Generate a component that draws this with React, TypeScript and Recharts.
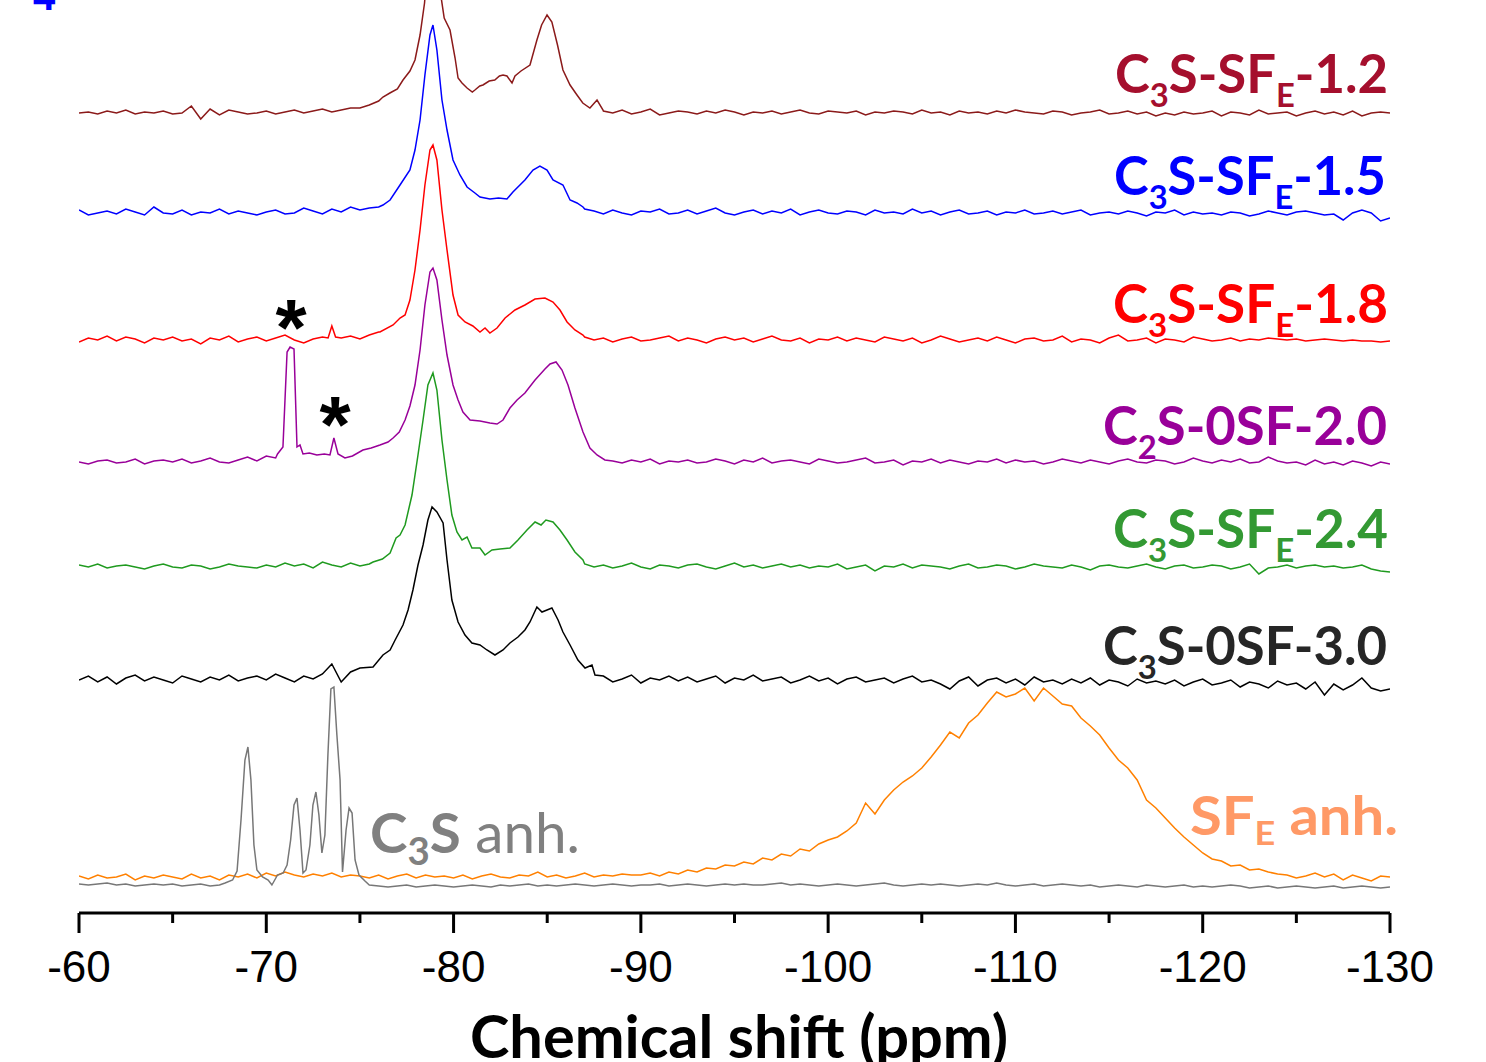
import React from "react";
import { LineChart, Line, XAxis, YAxis } from "recharts";

const N = null;

// 0.5 ppm grid for the baseline stretches of every trace (-60 ... -130)
const gridPpm: number[] = [];
for (let i = 0; i <= 140; i++) gridPpm.push(-60 - i * 0.5);

const tickValues = [-60, -65, -70, -75, -80, -85, -90, -95, -100, -105, -110, -115, -120, -125, -130];

// baseline noise on the grid (N = covered by the detailed peak points)
const c3s12Noise = [
  0, 1, -1, 2, 0, 3, -1, 1, 0, 2,
  -1, 0, 7, -6, 4, -2, 3, 1, -1, 0,
  2, -1, 1, 3, 0, 2, 4, 1, 3, 5,
  5, 8, 12, N, N, N, N, N, N, N,
  N, N, N, N, N, N, N, N, N, N,
  N, N, N, N, N, N, 2, 0, 3, -1,
  1, 4, -2, 0, 2, 1, -1, 2, 0, 3,
  1, -2, 1, 0, 2, -1, 1, 3, 0, -1,
  2, 1, 0, 2, -2, 1, 0, 2, 1, -1,
  3, 0, 1, -2, 2, 0, 1, -1, 2, 0,
  3, 1, 0, -1, 2, 1, -2, 0, 1, 3,
  -1, 0, 2, -1, 1, -3, 0, -2, 1, -1,
  0, 2, -3, 1, 0, -2, 3, -1, 0, 1,
  -3, 0, 2, -1, 1, -2, 2, -3, 0, 1,
  0,
];
const c3s12Peaks: [number, number][] = [
  [-76.23, 16], [-76.6, 20], [-77.0, 24], [-77.3, 33], [-77.67, 42], [-77.94, 53], [-78.21, 78],
  [-78.45, 110], [-78.65, 160], [-78.9, 215], [-79.1, 180], [-79.3, 120], [-79.5, 95], [-79.81, 83],
  [-80.08, 55], [-80.24, 35], [-80.45, 30], [-80.72, 25], [-81.0, 21], [-81.14, 23], [-81.4, 27],
  [-81.57, 28], [-81.9, 32], [-82.2, 33], [-82.45, 37], [-82.64, 38], [-82.85, 37], [-83.12, 30],
  [-83.28, 37], [-83.6, 42], [-84.08, 48], [-84.45, 73], [-84.7, 88], [-84.99, 98], [-85.25, 91],
  [-85.55, 68], [-85.84, 43], [-86.22, 28], [-86.59, 18], [-86.9, 10], [-87.28, 5], [-87.66, 13],
  [-87.98, 3],
];

const c3s15Noise = [
  3, -2, 0, 2, -1, 4, 1, -2, 6, 0,
  -1, 3, -2, 1, 0, 4, -1, 2, 0, -2,
  1, 3, -1, 0, 5, 2, -1, 4, 1, 6,
  3, 5, 6, N, N, N, N, N, N, N,
  N, N, N, N, N, N, N, N, N, N,
  N, N, N, N, 4, 2, -1, 3, 0, -2,
  2, 1, 4, -1, 0, 3, -1, 2, 5, 0,
  -2, 1, 3, -1, 2, 0, 4, -2, 1, 3,
  0, -1, 2, 1, -2, 3, 0, 1, -1, 4,
  0, 2, -2, 1, 3, -1, 0, 2, -2, 1,
  0, 3, -1, 0, 2, -1, 1, 3, -2, 0,
  1, -1, 2, 0, -3, 1, 0, 3, -2, 1,
  -1, 0, -2, 1, 0, -3, -1, 2, 0, -2,
  1, 2, 0, -2, -1, -7, 0, 3, 0, -8,
  -5,
];
const c3s15Peaks: [number, number][] = [
  [-76.23, 8], [-76.61, 13], [-77.14, 28], [-77.67, 43], [-77.94, 63], [-78.21, 93], [-78.47, 138],
  [-78.74, 178], [-78.9, 188], [-79.11, 163], [-79.38, 113], [-79.65, 83], [-79.97, 53], [-80.34, 38],
  [-80.72, 26], [-81.14, 20], [-81.41, 16], [-81.94, 14], [-82.4, 15], [-82.85, 14], [-83.17, 21],
  [-83.81, 33], [-84.24, 43], [-84.61, 47], [-84.99, 43], [-85.31, 33], [-85.84, 28], [-86.22, 13],
  [-86.59, 10], [-86.91, 6],
];

const c3s18Noise = [
  -2, 2, 0, 4, -1, 3, 1, -3, 2, 0,
  3, -1, 1, -4, 2, 0, 4, -2, 1, 3,
  -1, 2, 5, 0, -3, 1, 3, N, 2, 4,
  1, 5, 8, N, N, N, N, N, N, N,
  N, N, N, N, N, N, N, N, N, N,
  N, N, N, N, 3, 0, 2, -2, 1, 3,
  -1, 0, 2, 4, -1, 2, 0, -3, 1, 3,
  0, 2, -2, 1, 4, 0, -1, 2, -3, 1,
  0, 3, -1, 2, 0, -2, 3, 1, -1, 2,
  -3, 0, 4, 1, -2, 0, 2, -1, 3, 0,
  -3, 1, 2, -1, 0, 4, -2, 1, 0, -3,
  2, 5, -1, 0, 2, -3, 1, 0, -2, 3,
  1, -1, 0, 2, -1, 1, 0, 2, 1, 0,
  1, -1, 0, 1, 0, -1, 0, -1, -1, -2,
  -1,
];
const c3s18Peaks: [number, number][] = [
  [-73.3, 2], [-73.5, 14], [-73.7, 3],
  [-76.07, 8], [-76.77, 15], [-77.14, 22], [-77.41, 25], [-77.67, 40], [-77.94, 70], [-78.21, 110],
  [-78.47, 155], [-78.74, 190], [-78.9, 195], [-79.11, 180], [-79.38, 130], [-79.65, 90], [-79.97, 45],
  [-80.24, 25], [-80.61, 18], [-81.03, 14], [-81.41, 8], [-81.68, 12], [-81.94, 7], [-82.32, 12],
  [-82.75, 22], [-83.28, 30], [-83.81, 35], [-84.35, 41], [-84.88, 42], [-85.31, 38], [-85.68, 30],
  [-86.06, 18], [-86.48, 10], [-86.91, 5],
];

const c2s20Noise = [
  0, -2, 1, 2, -1, 0, 3, -2, 1, 2,
  0, 3, -1, 1, 4, 0, -1, 2, 5, 1,
  6, 4, N, N, N, N, N, N, N, N,
  N, N, N, N, N, N, N, N, N, N,
  N, N, N, N, N, N, N, N, N, N,
  N, N, N, N, N, N, N, 1, -1, 2,
  0, 3, -2, 1, 0, 2, -1, 0, 3, 1,
  -2, 2, 0, 4, -1, 1, 2, 0, -2, 3,
  1, -1, 0, 2, 4, -1, 0, 2, -3, 1,
  0, 3, -1, 2, 0, -2, 1, 0, 3, -1,
  2, 0, 1, -2, 0, 3, 1, -1, 2, 0,
  -2, 1, 3, 0, -1, 2, 1, -2, 0, 4,
  1, -1, 2, 0, 3, -1, 0, 5, 1, -1,
  0, -3, 2, -2, 0, -3, 1, -1, -4, 0,
  -2,
];
const c2s20Peaks: [number, number][] = [
  [-70.6, 8], [-70.89, 15], [-71.11, 110], [-71.27, 115], [-71.48, 113], [-71.64, 15], [-71.8, 17],
  [-71.96, 8], [-72.3, 9], [-72.7, 7], [-73.1, 8], [-73.4, 7], [-73.61, 24], [-73.83, 8], [-74.2, 4],
  [-74.6, 6], [-75.16, 12], [-75.6, 14], [-76.07, 17], [-76.5, 20], [-76.77, 24], [-77.1, 30],
  [-77.41, 42], [-77.67, 56], [-77.94, 77], [-78.21, 112], [-78.47, 157], [-78.74, 190], [-78.9, 194],
  [-79.11, 182], [-79.38, 142], [-79.65, 107], [-79.97, 77], [-80.24, 62], [-80.5, 50], [-80.88, 42],
  [-81.41, 41], [-81.94, 39], [-82.32, 38], [-82.64, 42], [-83.01, 54], [-83.39, 62], [-83.81, 69],
  [-84.35, 82], [-84.88, 93], [-85.15, 98], [-85.47, 100], [-85.79, 92], [-86.11, 77], [-86.48, 54],
  [-86.91, 30], [-87.28, 14], [-87.66, 7], [-88.08, 2],
];

const c3s24Noise = [
  2, 0, 3, -1, 1, 2, 0, -2, 1, 3,
  0, -1, 2, 1, -2, 0, 3, 1, 0, -1,
  2, 0, 4, 1, 3, -1, 5, 2, 0, 4,
  1, 3, N, N, N, N, N, N, N, N,
  N, N, N, N, N, N, N, N, N, N,
  N, N, N, N, 3, 0, 2, -1, 1, 4,
  0, -2, 2, 1, -1, 2, 3, 0, -2, 1,
  4, 0, 2, -1, 1, 3, 0, 2, -1, 1,
  0, 3, -2, 0, 2, -4, 1, 0, 3, -1,
  2, 1, 0, -2, 1, 3, -1, 0, 2, 1,
  -2, 0, 3, 1, 0, -1, 2, 0, -3, 1,
  2, 0, -1, 1, 3, 0, -2, 1, 2, -1,
  0, 2, 1, -2, 0, 3, -7, -1, 0, 2,
  -1, 1, 2, 0, 1, -1, 0, 2, -2, -4,
  -5,
];
const c3s24Peaks: [number, number][] = [
  [-75.7, 5], [-76.2, 8], [-76.61, 14], [-76.93, 29], [-77.14, 32], [-77.41, 42], [-77.78, 72],
  [-78.1, 112], [-78.37, 147], [-78.63, 182], [-78.9, 194], [-79.11, 177], [-79.38, 127], [-79.65, 87],
  [-79.91, 52], [-80.18, 35], [-80.45, 27], [-80.72, 30], [-80.98, 19], [-81.41, 19], [-81.68, 12],
  [-82.05, 17], [-82.48, 18], [-83.01, 19], [-83.44, 27], [-83.92, 37], [-84.35, 45], [-84.67, 42],
  [-84.93, 47], [-85.31, 45], [-85.68, 37], [-86.06, 27], [-86.48, 15], [-86.91, 7],
];

const c3s30Noise = [
  0, 4, -2, 3, -4, 2, 5, -1, 3, 0,
  -3, 4, 1, -2, 3, 0, 5, -1, 2, 4,
  0, 6, 2, -2, 4, 1, 6, 16, -2, 8,
  N, N, N, N, N, N, N, N, N, N,
  N, N, N, N, N, N, N, N, N, N,
  N, N, N, N, N, N, 4, -2, 1, 5,
  -3, 2, 0, 4, -1, 3, -2, 1, 4, -3,
  2, 0, 5, -1, 1, 3, -3, 0, 4, -1,
  2, -4, 1, 3, -2, 0, 2, -3, 1, 4,
  -2, 0, -4, -9, -1, 3, -6, 0, 2, -3,
  1, -5, 3, -2, 0, -4, 1, -3, 2, -5,
  0, -2, -6, 1, -3, -1, -4, 0, -6, -2,
  1, -5, -3, 0, -7, -2, -4, -8, -1, -5,
  -3, -9, -2, -15, -4, -10, -5, 2, -8, -11,
  -9,
];
const c3s30Peaks: [number, number][] = [
  [-75.0, 12], [-75.7, 13], [-76.23, 25], [-76.61, 30], [-76.88, 40], [-77.3, 55], [-77.57, 70],
  [-77.83, 90], [-78.1, 115], [-78.37, 135], [-78.63, 160], [-78.85, 173], [-79.11, 168], [-79.44, 157],
  [-79.65, 120], [-79.91, 80], [-80.24, 58], [-80.61, 45], [-80.98, 37], [-81.41, 35], [-81.78, 30],
  [-82.21, 25], [-82.64, 30], [-83.01, 37], [-83.44, 43], [-83.81, 50], [-84.08, 58], [-84.45, 73],
  [-84.72, 68], [-84.99, 70], [-85.25, 72], [-85.58, 60], [-85.84, 48], [-86.22, 35], [-86.64, 20],
  [-87.02, 12], [-87.39, 15], [-87.55, 5],
];

const c3sAnhNoise = [
  1, 0, 1, 2, 0, 1, -1, 0, 1, 0,
  1, -1, 0, 1, -1, 0, N, N, N, N,
  N, N, N, N, N, N, N, N, N, N,
  N, 0, -1, -2, -1, 0, -2, -1, 0, -1,
  -2, -1, 0, -1, -2, 0, -1, 0, 1, -1,
  0, -1, 0, 1, 0, -1, 0, 1, 0, -1,
  0, 0, 1, -1, 0, 1, 0, -1, 0, 1,
  0, 1, 0, 0, 1, 2, 0, 1, 0, -1,
  0, 1, 0, -1, 0, 1, 2, 0, -1, 0,
  1, 0, 1, 0, -1, 0, 1, 0, 2, 0,
  -1, 0, 1, -1, 0, 1, 0, -1, 0, -2,
  -1, 0, -1, -2, 0, -1, -2, -1, 0, -2,
  -1, -2, -1, 0, -1, -3, -2, -1, -3, -2,
  -1, -2, -3, -2, -1, -3, -2, -1, -2, -3,
  -2,
];
const c3sAnhPeaks: [number, number][] = [
  [-67.8, 2], [-68.2, 5], [-68.44, 14], [-68.65, 65], [-68.86, 125], [-69.02, 138], [-69.18, 105],
  [-69.34, 40], [-69.5, 15], [-69.8, 8], [-70.1, 5], [-70.3, 0], [-70.6, 10], [-70.9, 12], [-71.11, 20],
  [-71.3, 45], [-71.48, 80], [-71.64, 87], [-71.8, 55], [-71.96, 12], [-72.12, 15], [-72.33, 40],
  [-72.49, 80], [-72.65, 93], [-72.81, 70], [-72.97, 32], [-73.13, 50], [-73.29, 130], [-73.45, 196],
  [-73.61, 198], [-73.77, 150], [-73.94, 105], [-74.07, 13], [-74.26, 55], [-74.42, 77], [-74.58, 72],
  [-74.74, 25], [-74.95, 10], [-75.27, 4],
];

// broad SF_E resonance, read straight on the grid
const sfeAnhNoise = [
  2, -1, 3, 0, 1, 4, -2, 2, 0, 3,
  1, -1, 4, 0, 2, -2, 3, 1, 4, 0,
  5, 2, 6, 3, 1, 4, 2, 5, 1, 3,
  2, 0, 3, -1, 2, 4, 0, 3, 1, 2,
  0, 3, -1, 2, 4, 1, 0, 3, 2, 6,
  1, 3, 0, 2, 5, 1, 3, 2, 4, 3,
  3, 5, 2, 6, 4, 8, 6, 10, 9, 13,
  12, 16, 14, 20, 18, 24, 22, 29, 27, 34,
  38, 41, 47, 55, 75, 64, 78, 88, 96, 102,
  110, 121, 133, 146, 140, 155, 163, 175, 186, 181,
  184, 190, 177, 190, 182, 174, 172, 160, 152, 143,
  130, 118, 110, 98, 78, 70, 60, 50, 41, 33,
  25, 19, 17, 12, 13, 8, 9, 6, 4, 3,
  0, 2, 5, 1, 4, -2, 3, 0, -3, 2,
  1,
];
const sfeAnhPeaks: [number, number][] = [];

type Pt = { ppm: number; y: number };

function buildTrace(noise: (number | null)[], peaks: [number, number][], offset: number): Pt[] {
  const pts: Pt[] = [];
  noise.forEach((v, i) => {
    if (v !== null && i < gridPpm.length) pts.push({ ppm: gridPpm[i], y: v + offset });
  });
  peaks.forEach(([ppm, v]) => pts.push({ ppm, y: v + offset }));
  pts.sort((a, b) => b.ppm - a.ppm);
  return pts;
}

// stacking offset = distance of each baseline above the x axis
const traces = [
  { key: "sfe", data: buildTrace(sfeAnhNoise, sfeAnhPeaks, 35), color: "#FF8000" },
  { key: "c3s", data: buildTrace(c3sAnhNoise, c3sAnhPeaks, 28), color: "#777777" },
  { key: "c3s30", data: buildTrace(c3s30Noise, c3s30Peaks, 233), color: "#000000" },
  { key: "c3s24", data: buildTrace(c3s24Noise, c3s24Peaks, 346), color: "#1F9A1F" },
  { key: "c2s20", data: buildTrace(c2s20Noise, c2s20Peaks, 451), color: "#990099" },
  { key: "c3s18", data: buildTrace(c3s18Noise, c3s18Peaks, 573), color: "#FF0000" },
  { key: "c3s15", data: buildTrace(c3s15Noise, c3s15Peaks, 700), color: "#0000FF" },
  { key: "c3s12", data: buildTrace(c3s12Noise, c3s12Peaks, 800), color: "#8B1A1A" },
];

type Seg = [string, boolean, number?];

const labels: { segs: Seg[]; x: number; y: number; w: number; anchor: "start" | "end"; color: string; size: number; sub: number; dy: number }[] = [
  { segs: [["C", false], ["3", true], ["S-SF", false], ["E", true], ["-1.2", false]], x: 1388, y: 93, w: 273, anchor: "end", color: "#A50F2D", size: 53, sub: 33, dy: 14 },
  { segs: [["C", false], ["3", true], ["S-SF", false], ["E", true], ["-1.5", false]], x: 1386, y: 195, w: 272, anchor: "end", color: "#0000FF", size: 53, sub: 33, dy: 14 },
  { segs: [["C", false], ["3", true], ["S-SF", false], ["E", true], ["-1.8", false]], x: 1388, y: 323, w: 275, anchor: "end", color: "#FF0000", size: 53, sub: 33, dy: 14 },
  { segs: [["C", false], ["2", true], ["S-0SF-2.0", false]], x: 1387, y: 445, w: 284, anchor: "end", color: "#990099", size: 53, sub: 33, dy: 14 },
  { segs: [["C", false], ["3", true], ["S-SF", false], ["E", true], ["-2.4", false]], x: 1388, y: 548, w: 275, anchor: "end", color: "#339933", size: 53, sub: 33, dy: 14 },
  { segs: [["C", false], ["3", true], ["S-0SF-3.0", false]], x: 1387, y: 665, w: 284, anchor: "end", color: "#262626", size: 53, sub: 33, dy: 14 },
  { segs: [["C", false], ["3", true], ["S", false], [" anh.", false, 400]], x: 370, y: 853, w: 210, anchor: "start", color: "#808080", size: 56, sub: 38, dy: 12 },
  { segs: [["SF", false], ["E", true], [" anh.", false]], x: 1190, y: 835, w: 208, anchor: "start", color: "#FF9966", size: 53, sub: 33, dy: 10 },
];

const renderTick = (props: any) => {
  const { x, y, payload } = props;
  const major = payload.value % 10 === 0;
  return (
    <g>
      <line x1={x} x2={x} y1={y} y2={y + (major ? 20 : 10)} stroke="#000" strokeWidth={3} />
      {major && (
        <text x={x} y={y + 69} textAnchor="middle" fontFamily="'Liberation Sans', Arial, sans-serif" fontSize={44} fill="#000">
          {payload.value}
        </text>
      )}
    </g>
  );
};

export default function App() {
  return (
    <div style={{ position: "absolute", left: 0, top: 0, width: 1486, height: 1062, background: "#fff" }}>
      <LineChart width={1486} height={1062} margin={{ top: 0, right: 96, bottom: 49, left: 79 }}>
        <XAxis
          type="number"
          dataKey="ppm"
          domain={[-130, -60]}
          reversed
          allowDataOverflow
          ticks={tickValues}
          interval={0}
          height={100}
          tickSize={0}
          tickMargin={0}
          tickLine={false}
          axisLine={{ stroke: "#000", strokeWidth: 3 }}
          tick={renderTick}
        />
        <YAxis type="number" domain={[0, 913]} hide allowDataOverflow />
        {traces.map((t) => (
          <Line
            key={t.key}
            data={t.data}
            dataKey="y"
            type="linear"
            stroke={t.color}
            strokeWidth={1.5}
            dot={false}
            activeDot={false}
            isAnimationActive={false}
          />
        ))}
        {labels.map((l, i) => (
          <text
            key={i}
            x={l.x}
            y={l.y}
            textAnchor={l.anchor}
            fill={l.color}
            fontFamily="Lato, 'Open Sans', sans-serif"
            fontWeight={700}
            fontSize={l.size}
            textLength={l.w}
            lengthAdjust="spacingAndGlyphs"
          >
            {l.segs.map(([t, sub, weight], k) => {
              const prevSub = k > 0 && l.segs[k - 1][1];
              const dy = sub ? l.dy : prevSub ? -l.dy : 0;
              return (
                <tspan key={k} dy={dy} fontSize={sub ? l.sub : l.size} fontWeight={weight ?? 700}>
                  {t}
                </tspan>
              );
            })}
          </text>
        ))}
        <text x={291} y={355} textAnchor="middle" fontFamily="'Liberation Sans', Arial" fontWeight={700} fontSize={80} fill="#000">*</text>
        <text x={335} y={452} textAnchor="middle" fontFamily="'Liberation Sans', Arial" fontWeight={700} fontSize={80} fill="#000">*</text>
        <text x={44} y={10} textAnchor="middle" fontFamily="'Liberation Sans', Arial" fontWeight={700} fontSize={40} fill="#0000FF">4</text>
        <text
          x={739}
          y={1058}
          textAnchor="middle"
          fontFamily="Lato, 'Open Sans', sans-serif"
          fontWeight={700}
          fontSize={60}
          textLength={538}
          lengthAdjust="spacingAndGlyphs"
          fill="#000"
        >
          Chemical shift (ppm)
        </text>
      </LineChart>
    </div>
  );
}
